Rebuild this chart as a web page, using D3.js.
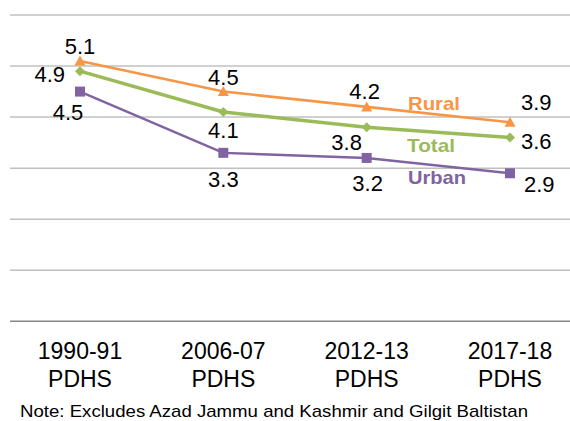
<!DOCTYPE html>
<html>
<head>
<meta charset="utf-8">
<script src="https://cdn.jsdelivr.net/npm/d3@7"></script>
<style>
    body { margin: 0; background: #fff; }
    svg { display: block; font-family: "Liberation Sans", Arial, sans-serif; }
</style>
</head>
<body>
<div id="chart"></div>
<script>
// 数据
const categories = ['1990-91 PDHS', '2006-07 PDHS', '2012-13 PDHS', '2017-18 PDHS'];
const rural = [5.1, 4.5, 4.2, 3.9];
const total = [4.9, 4.1, 3.8, 3.6];
const urban = [4.5, 3.3, 3.2, 2.9];
const yTicks = [0, 1, 2, 3, 4, 5, 6];
const note = 'Note: Excludes Azad Jammu and Kashmir and Gilgit Baltistan';

const W = 570, H = 421;

const series = [
    { name: 'Rural', values: rural, color: '#F79646', marker: 'triangle', width: 2.6 },
    { name: 'Total', values: total, color: '#9BBB59', marker: 'diamond', width: 3.4 },
    { name: 'Urban', values: urban, color: '#8064A2', marker: 'square', width: 2.4 }
];

// 数值标签的偏移 [dx, dy, anchor]
const LABEL_POS = {
    Rural: [[0, -7, 'middle'], [0, -7, 'middle'], [-2, -8, 'middle'], [11, -12, 'start']],
    Total: [[-15, 11, 'end'], [0, 26, 'middle'], [-20, 23, 'middle'], [11, 11, 'start']],
    Urban: [[-12, 28, 'middle'], [0, 34, 'middle'], [1, 33, 'middle'], [14, 19, 'start']]
};
// 系列名称位置 [x, y, 宽度]
const NAME_POS = { Rural: [408, 110, 52], Total: [407, 152, 48], Urban: [408, 184, 58] };

const svg = d3.select('#chart').append('svg')
    .attr('width', W)
    .attr('height', H);

const x = d3.scalePoint().domain(categories).range([80, 510]);
const y = d3.scaleLinear().domain([0, 6]).range([321.3, 15]);

// 网格线
svg.append('g').selectAll('line')
    .data(yTicks)
    .join('line')
    .attr('x1', 10).attr('x2', 570)
    .attr('y1', d => y(d)).attr('y2', d => y(d))
    .attr('stroke', d => d === 0 ? '#868686' : '#c0c0c0')
    .attr('stroke-width', 1.5);

// x 轴标签
const xl = svg.append('g').selectAll('text')
    .data(categories)
    .join('text')
    .attr('text-anchor', 'middle')
    .attr('font-size', 23)
    .attr('fill', '#000');
xl.each(function (d) {
    const parts = d.split(' ');
    const t = d3.select(this);
    t.append('tspan').attr('x', x(d)).attr('y', 359).text(parts[0]);
    t.append('tspan').attr('x', x(d)).attr('y', 387).text(parts[1]);
});

const line = d3.line()
    .x((d, i) => x(categories[i]))
    .y(d => y(d));

function markerPath(type) {
    if (type === 'triangle') return 'M0,-5.5L5.5,4.5L-5.5,4.5Z';
    if (type === 'diamond') return 'M0,-5L5,0L0,5L-5,0Z';
    return 'M-5,-5L5,-5L5,5L-5,5Z';
}

series.forEach(s => {
    const g = svg.append('g');
    g.append('path')
        .datum(s.values)
        .attr('d', line)
        .attr('fill', 'none')
        .attr('stroke', s.color)
        .attr('stroke-width', s.width)
        .attr('stroke-linejoin', 'round');

    g.selectAll('path.mk')
        .data(s.values)
        .join('path')
        .attr('class', 'mk')
        .attr('transform', (d, i) => `translate(${x(categories[i])},${y(d)})`)
        .attr('d', markerPath(s.marker))
        .attr('fill', s.color);

    g.selectAll('text.val')
        .data(s.values)
        .join('text')
        .attr('class', 'val')
        .attr('x', (d, i) => x(categories[i]) + LABEL_POS[s.name][i][0])
        .attr('y', (d, i) => y(d) + LABEL_POS[s.name][i][1])
        .attr('text-anchor', (d, i) => LABEL_POS[s.name][i][2])
        .attr('font-size', 22)
        .attr('fill', '#000')
        .text(d => d.toFixed(1));

    g.append('text')
        .attr('x', NAME_POS[s.name][0])
        .attr('y', NAME_POS[s.name][1])
        .attr('font-size', 19)
        .attr('font-weight', 'bold')
        .attr('textLength', NAME_POS[s.name][2])
        .attr('lengthAdjust', 'spacingAndGlyphs')
        .attr('fill', s.color)
        .text(s.name);
});

// 注释
svg.append('text')
    .attr('x', 20)
    .attr('y', 416.5)
    .attr('font-size', 17)
    .attr('textLength', 508)
    .attr('lengthAdjust', 'spacingAndGlyphs')
    .attr('fill', '#000')
    .text(note);
</script>
</body>
</html>
